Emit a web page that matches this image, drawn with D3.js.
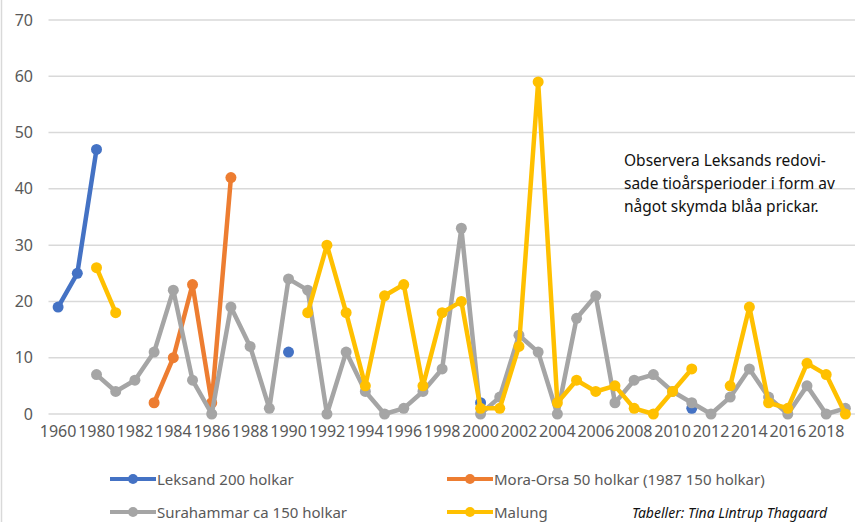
<!DOCTYPE html>
<html>
<head>
<meta charset="utf-8">
<script src="https://cdn.jsdelivr.net/npm/d3@7"></script>
<style>
  body { margin: 0; background: #fff; }
  text { font-family: "Noto Sans", sans-serif; }
</style>
</head>
<body>
<div id="chart"></div>
<script>
// categories: two decade points first, then yearly
var categories = ["1960", "1970"];
for (var yr = 1980; yr <= 2019; yr++) categories.push(String(yr));

var yTicks = [0, 10, 20, 30, 40, 50, 60, 70];

var leksand = [19, 25, 47, null, null, null, null, null, null, null, null, null, 11, null, null, null, null, null, null, null, null, null, 2, null, null, null, null, null, null, null, null, null, null, 1, null, null, null, null, null, null, null, null];

var moraOrsa = [null, null, null, null, null, 2, 10, 23, 2, 42, null, null, null, null, null, null, null, null, null, null, null, null, null, null, null, null, null, null, null, null, null, null, null, null, null, null, null, null, null, null, null, null];

var surahammar = [null, null, 7, 4, 6, 11, 22, 6, 0, 19, 12, 1, 24, 22, 0, 11, 4, 0, 1, 4, 8, 33, 0, 3, 14, 11, 0, 17, 21, 2, 6, 7, 4, 2, 0, 3, 8, 3, 0, 5, 0, 1];

var malung = [null, null, 26, 18, null, null, null, null, null, null, null, null, null, 18, 30, 18, 5, 21, 23, 5, 18, 20, 1, 1, 12, 59, 2, 6, 4, 5, 1, 0, 4, 8, null, 5, 19, 2, 1, 9, 7, 0];

var seriesNames = ["Leksand 200 holkar", "Mora-Orsa 50 holkar (1987 150 holkar)", "Surahammar ca 150 holkar", "Malung"];
var seriesColors = ["#4472C4", "#ED7D31", "#A5A5A5", "#FFC000"];
var seriesData = [leksand, moraOrsa, surahammar, malung];

var w = 866, h = 522;

var svg = d3.select("#chart").append("svg")
  .attr("width", w)
  .attr("height", h);

var x = d3.scaleBand().domain(categories).range([48.5, 855]).padding(0);
var y = d3.scaleLinear().domain([0, 70]).range([414, 20]);
var cx = function(c) { return x(c) + x.bandwidth() / 2; };

// left frame edge
svg.append("line")
  .attr("x1", 1.5).attr("x2", 1.5).attr("y1", 0).attr("y2", h)
  .attr("stroke", "#d9d9d9").attr("stroke-width", 1.5);

// gridlines
svg.append("g").selectAll("line")
  .data(yTicks)
  .enter().append("line")
  .attr("x1", 48.5).attr("x2", 855)
  .attr("y1", function(d) { return y(d); })
  .attr("y2", function(d) { return y(d); })
  .attr("stroke", "#d9d9d9")
  .attr("stroke-width", 1.5);

// y axis labels
var yAxis = d3.axisLeft(y).tickValues(yTicks).tickSize(0).tickPadding(0);
var gy = svg.append("g").attr("transform", "translate(33,0)").call(yAxis);
gy.select(".domain").remove();
gy.selectAll("text")
  .attr("fill", "#595959")
  .style("font-size", "16px")
  .style("font-family", "'Noto Sans', sans-serif");

// x axis labels, every second category
var xAxis = d3.axisBottom(x)
  .tickValues(categories.filter(function(d, i) { return i % 2 === 0; }))
  .tickSize(0).tickPadding(0);
var gx = svg.append("g").attr("transform", "translate(0,426)").call(xAxis);
gx.select(".domain").remove();
gx.selectAll("text")
  .attr("fill", "#595959")
  .style("font-size", "16px")
  .style("font-family", "'Noto Sans', sans-serif");

// series
var line = d3.line()
  .defined(function(d) { return d.v != null; })
  .x(function(d) { return cx(d.c); })
  .y(function(d) { return y(d.v); });

seriesData.forEach(function(vals, si) {
  var pts = vals.map(function(v, i) { return { c: categories[i], v: v }; });
  var g = svg.append("g");
  g.append("path")
    .datum(pts)
    .attr("d", line)
    .attr("fill", "none")
    .attr("stroke", seriesColors[si])
    .attr("stroke-width", 4.5)
    .attr("stroke-linejoin", "round");
  g.selectAll("circle")
    .data(pts.filter(function(d) { return d.v != null; }))
    .enter().append("circle")
    .attr("cx", function(d) { return cx(d.c); })
    .attr("cy", function(d) { return y(d.v); })
    .attr("r", 5.5)
    .attr("fill", seriesColors[si]);
});

// legend
var legendPos = [[110, 479], [447, 479], [110, 512], [447, 512]];
seriesNames.forEach(function(name, i) {
  var lg = svg.append("g").attr("transform", "translate(" + legendPos[i][0] + "," + legendPos[i][1] + ")");
  lg.append("line")
    .attr("x1", 0).attr("x2", 46).attr("y1", 0).attr("y2", 0)
    .attr("stroke", seriesColors[i]).attr("stroke-width", 4);
  lg.append("circle").attr("cx", 23).attr("cy", 0).attr("r", 5).attr("fill", seriesColors[i]);
  lg.append("text")
    .attr("x", 47).attr("y", 5.5)
    .attr("fill", "#595959")
    .style("font-size", "15px")
    .text(name);
});

// note
var note = ["Observera Leksands redovi-", "sade tioårsperioder i form av", "något skymda blåa prickar."];
svg.append("g").selectAll("text")
  .data(note)
  .enter().append("text")
  .attr("x", 624)
  .attr("y", function(d, i) { return 166 + i * 23; })
  .attr("fill", "#111")
  .style("font-size", "15.5px")
  .text(function(d) { return d; });

svg.append("text")
  .attr("x", 632).attr("y", 518)
  .attr("fill", "#111")
  .style("font-size", "14px")
  .style("font-style", "italic")
  .text("Tabeller: Tina Lintrup Thagaard");
</script>
</body>
</html>
